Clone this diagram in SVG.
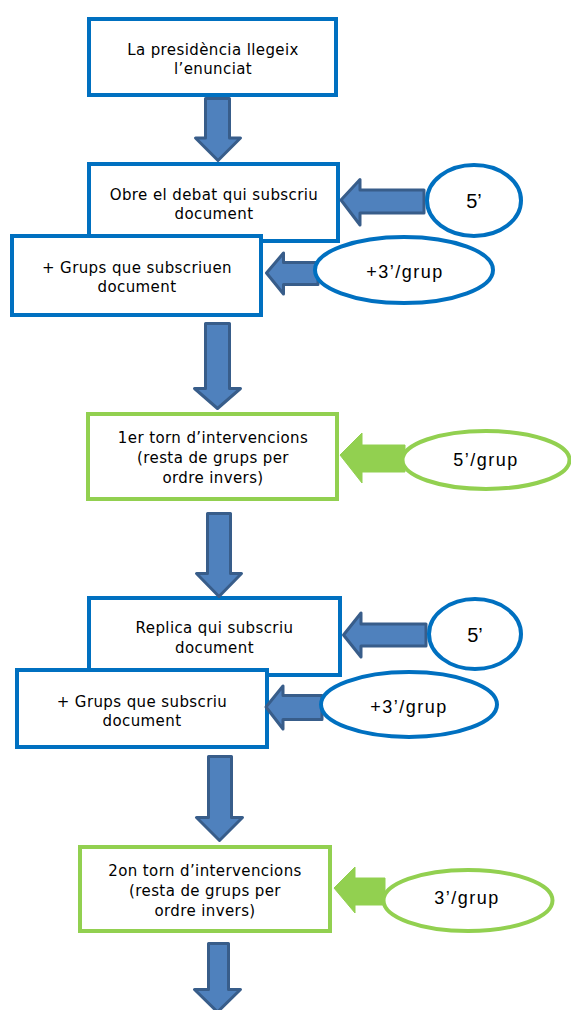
<svg xmlns="http://www.w3.org/2000/svg" width="571" height="1010" viewBox="0 0 571 1010">
<style>
.bb{fill:#fff;stroke:#0070C0;stroke-width:4}
.gb{fill:#fff;stroke:#92D050;stroke-width:4}
.ba{fill:#4F81BD;stroke:#385D8A;stroke-width:3;stroke-linejoin:round}
.ga{fill:#92D050;stroke:#92D050;stroke-width:1;stroke-linejoin:round}
.t{font-family:"DejaVu Sans",Verdana,sans-serif;font-size:15px;letter-spacing:0.4px;fill:#000;text-anchor:middle}
.e{font-family:"Liberation Sans",Arial,sans-serif;font-size:18px;letter-spacing:1.5px;fill:#000;text-anchor:middle}
.e5{font-family:"Liberation Sans",Arial,sans-serif;font-size:20px;fill:#000;text-anchor:middle}
</style>
<rect width="571" height="1010" fill="#fff"/>
<g id="box1"><rect class="bb" x="89" y="19" width="247" height="76"/><text class="t" x="213" y="55">La presidència llegeix</text><text class="t" x="213" y="74">l’enunciat</text></g>
<g id="box2"><rect class="bb" x="89" y="164" width="249" height="77"/><text class="t" x="214" y="200">Obre el debat qui subscriu</text><text class="t" x="214" y="219">document</text></g>
<g id="box3"><rect class="bb" x="12" y="236" width="249" height="79"/><text class="t" x="137" y="272.5">+ Grups que subscriuen</text><text class="t" x="137" y="291.5">document</text></g>
<g id="box4"><rect class="gb" x="88" y="414" width="249" height="85"/><text class="t" x="213" y="443">1er torn d’intervencions</text><text class="t" x="213" y="463">(resta de grups per</text><text class="t" x="213" y="483">ordre invers)</text></g>
<g id="box5"><rect class="bb" x="89" y="598" width="251" height="77"/><text class="t" x="214.5" y="633">Replica qui subscriu</text><text class="t" x="214.5" y="653">document</text></g>
<g id="box6"><rect class="bb" x="17" y="670" width="250" height="77"/><text class="t" x="142" y="706.5">+ Grups que subscriu</text><text class="t" x="142" y="725.5">document</text></g>
<g id="box7"><rect class="gb" x="80" y="847" width="250" height="84"/><text class="t" x="205" y="876">2on torn d’intervencions</text><text class="t" x="205" y="896">(resta de grups per</text><text class="t" x="205" y="916">ordre invers)</text></g>
<g id="connectors">
<path class="ba" d="M205.5 98.5 H229.5 V138 H240.5 L218 160.5 L195.5 138 H205.5 Z"/>
<path class="ba" d="M205.5 323.5 H229.5 V388.5 H240.5 L217.5 408.5 L194.5 388.5 H205.5 Z"/>
<path class="ba" d="M207.5 513.5 H230.5 V573.5 H241.5 L219 596.5 L196.5 573.5 H207.5 Z"/>
<path class="ba" d="M208.5 756.5 H231.5 V817.5 H242.5 L219.5 840.5 L196.5 817.5 H208.5 Z"/>
<path class="ba" d="M208.5 943.5 H228.5 V989.5 H240.5 L217.5 1012 L194.5 989.5 H208.5 Z"/>
<path class="ba" d="M341 200 L360 179.5 V190 H424 V213 H360 V225 Z"/>
<path class="ba" d="M266.5 273 L283.5 253 V262.5 H318 V284.5 H283.5 V294 Z"/>
<path class="ba" d="M343.5 635 L361 613 V624 H426 V646 H361 V657 Z"/>
<path class="ba" d="M266 707 L283 686 V695.5 H322 V719.5 H283 V729 Z"/>
<path class="ga" d="M340 455 L362 433 V445 H405 V472 H362 V483 Z"/>
<path class="ga" d="M334 888 L355 867 V878 H385 V905 H355 V913 Z"/>
</g>
<g id="ell1"><ellipse class="bb" cx="474" cy="200.5" rx="47" ry="35.5"/><text class="e5" x="474" y="208">5’</text></g>
<g id="ell2"><ellipse class="bb" cx="404" cy="270" rx="89" ry="33"/><text class="e" x="405" y="278">+3’/grup</text></g>
<g id="ell3"><ellipse class="gb" cx="486" cy="460" rx="83.5" ry="29"/><text class="e" x="486" y="466">5’/grup</text></g>
<g id="ell4"><ellipse class="bb" cx="475" cy="634" rx="46" ry="35"/><text class="e5" x="475" y="641.5">5’</text></g>
<g id="ell5"><ellipse class="bb" cx="409" cy="704.5" rx="88" ry="32.5"/><text class="e" x="409" y="712.5">+3’/grup</text></g>
<g id="ell6"><ellipse class="gb" cx="468" cy="900.5" rx="84.5" ry="30.5"/><text class="e" x="467" y="904">3’/grup</text></g>
</svg>
